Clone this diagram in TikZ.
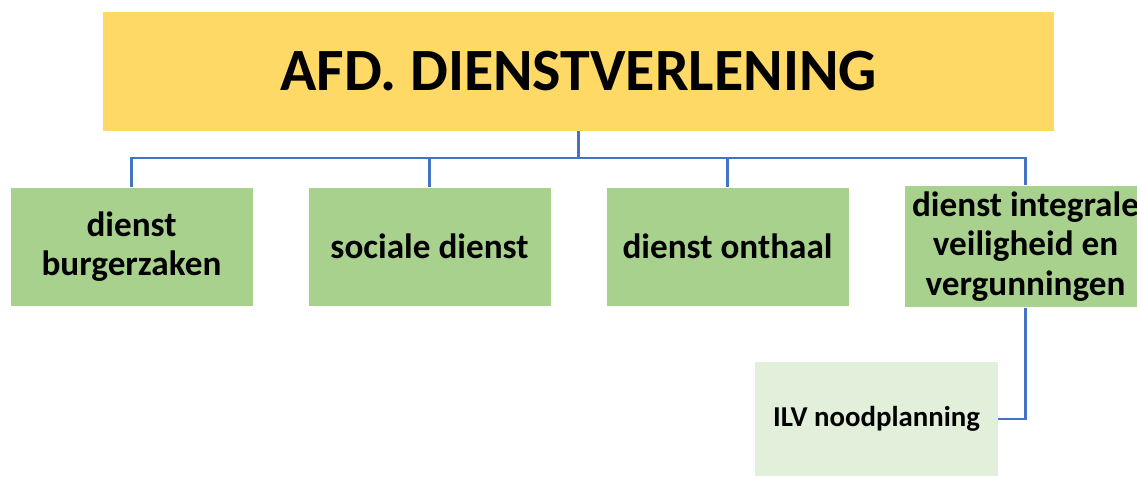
\documentclass[tikz,border=0pt]{standalone}
\usepackage{fontspec}
\setmainfont{Carlito}
\definecolor{titleyellow}{HTML}{FFD966}
\definecolor{unitgreen}{HTML}{A9D18E}
\definecolor{subgreen}{HTML}{E2EFDA}
\definecolor{linkblue}{HTML}{4472C4}
\begin{document}
\begin{tikzpicture}[
            x=0.5pt, y=-0.5pt,
            title node/.style={fill=titleyellow,minimum width=475.5pt,minimum height=59.5pt,font=\fontsize{30}{36}\selectfont\bfseries},
            unit node/.style={fill=unitgreen,draw=white,minimum width=121.5pt,minimum height=59.5pt,align=center,font=\fontsize{17.6}{19.6}\selectfont\bfseries},
            sub node/.style={fill=subgreen,minimum width=121.5pt,minimum height=57pt,align=center,font=\fontsize{14.4}{17}\selectfont\bfseries},
            link/.style={draw=linkblue,line width=1.3pt},
        ]
            \useasboundingbox (0,0) rectangle (1137,477);
            \node[title node] (afd) at (578.5, 71.5) {AFD. DIENSTVERLENING};
            \node[unit node] (burger) at (131.5, 246.5) {dienst\\burgerzaken};
            \node[unit node] (sociaal) at (429.5, 246.5) {sociale dienst};
            \node[unit node] (onthaal) at (727.5, 246.5) {dienst onthaal};
            \node[unit node] (ilv) at (1025.5, 246.5) {dienst integrale\\veiligheid en\\vergunningen};
            \node[sub node] (nood) at (876.5, 419) {ILV noodplanning};
            \coordinate (bus) at (578.5, 158);

            \path[link] (afd.south) -- (bus);
            \path[link] (bus) -| (burger.north);
            \path[link] (bus) -| (sociaal.north);
            \path[link] (bus) -| (onthaal.north);
            \path[link] (bus) -| (ilv.north);
            \path[link] (ilv.south) |- (nood.east);
\end{tikzpicture}
\end{document}
